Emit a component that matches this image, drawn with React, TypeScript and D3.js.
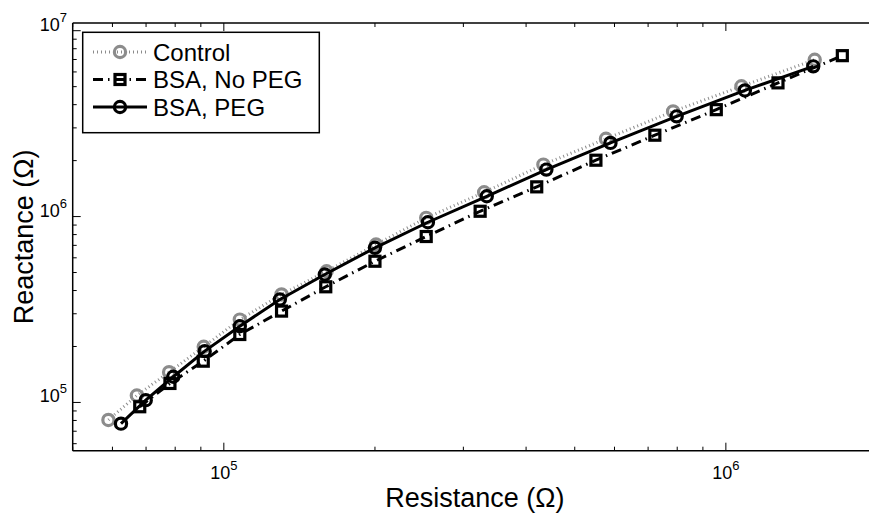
import React from "react";
import * as d3 from "d3";

// Resistance (Ohm) / Reactance (Ohm) values
const controlX = [5.89e4, 6.71e4, 7.78e4, 9.12e4, 1.076e5, 1.303e5, 1.602e5, 2.01e5, 2.53e5, 3.3e5, 4.33e5, 5.77e5, 7.85e5, 1.074e6, 1.503e6];
const controlY = [8.05e4, 1.09e5, 1.455e5, 1.993e5, 2.79e5, 3.81e5, 5.08e5, 7.07e5, 9.84e5, 1.351e6, 1.904e6, 2.62e6, 3.68e6, 5.02e6, 6.98e6];

const noPegX = [6.8e4, 7.81e4, 9.1e4, 1.076e5, 1.303e5, 1.596e5, 2.0e5, 2.53e5, 3.24e5, 4.2e5, 5.51e5, 7.22e5, 9.57e5, 1.27e6, 1.706e6];
const noPegY = [9.48e4, 1.265e5, 1.667e5, 2.32e5, 3.1e5, 4.19e5, 5.75e5, 7.81e5, 1.068e6, 1.445e6, 2.01e6, 2.74e6, 3.76e6, 5.24e6, 7.34e6];

const pegX = [6.24e4, 6.99e4, 7.93e4, 9.16e4, 1.076e5, 1.293e5, 1.589e5, 2.0e5, 2.55e5, 3.34e5, 4.39e5, 5.89e5, 7.98e5, 1.091e6, 1.493e6];
const pegY = [7.69e4, 1.029e5, 1.375e5, 1.888e5, 2.57e5, 3.58e5, 4.88e5, 6.79e5, 9.32e5, 1.286e6, 1.789e6, 2.49e6, 3.46e6, 4.77e6, 6.43e6];

const seriesNames = ["Control", "BSA, No PEG", "BSA, PEG"];
const xMajorTicks = [1e5, 1e6];
const yMajorTicks = [1e5, 1e6, 1e7];
const xLabel = "Resistance (Ω)";
const yLabel = "Reactance (Ω)";

const W = 869;
const H = 513;
const L = 72.7, R = 877, T = 23, B = 450.7;
const FONT = "'Liberation Sans', Arial, Helvetica, sans-serif";
const GRAY = "#8c8c8c";

const x = d3.scaleLog().domain([5e4, 2e6]).range([L, R]);
const y = d3.scaleLog().domain([5.5e4, 1.1e7]).range([B, T]);

function minorTicks(domain: number[]) {
  const out: { v: number; major: boolean }[] = [];
  const lo = Math.floor(Math.log10(domain[0]));
  const hi = Math.ceil(Math.log10(domain[1]));
  for (let e = lo; e <= hi; e++) {
    for (let m = 1; m <= 9; m++) {
      const v = m * Math.pow(10, e);
      if (v >= domain[0] && v <= domain[1]) out.push({ v, major: m === 1 });
    }
  }
  return out;
}

const zip = (xs: number[], ys: number[]) => xs.map((v, i) => [v, ys[i]] as [number, number]);

const line = d3
  .line<[number, number]>()
  .x((d) => x(d[0]))
  .y((d) => y(d[1]));

const series = [
  { name: seriesNames[0], data: zip(controlX, controlY), color: GRAY, dash: "1 3", width: 3, marker: "circle" },
  { name: seriesNames[1], data: zip(noPegX, noPegY), color: "#000", dash: "10 5 1.5 5", width: 3, marker: "square" },
  { name: seriesNames[2], data: zip(pegX, pegY), color: "#000", dash: "", width: 3, marker: "circle" },
];

function Marker({ kind, cx, cy, color }: { kind: string; cx: number; cy: number; color: string }) {
  if (kind === "square") {
    return <rect x={cx - 5} y={cy - 5} width={10} height={10} fill="none" stroke={color} strokeWidth={3.2} />;
  }
  return <circle cx={cx} cy={cy} r={5.6} fill="none" stroke={color} strokeWidth={3.2} />;
}

export default function App() {
  const xt = minorTicks(x.domain());
  const yt = minorTicks(y.domain());
  return (
    <svg width={W} height={H} style={{ position: "absolute", left: 0, top: 0, background: "#fff" }} fontFamily={FONT}>
      <rect x={0} y={0} width={W} height={H} fill="#fff" />
      <defs>
        <clipPath id="plot">
          <rect x={L} y={T} width={R - L} height={B - T} />
        </clipPath>
      </defs>
      <g clipPath="url(#plot)">
        {series.map((s) => (
          <g key={s.name}>
            <path d={line(s.data) || ""} fill="none" stroke={s.color} strokeWidth={s.width} strokeDasharray={s.dash || undefined} />
            {s.data.map((d, i) => (
              <Marker key={i} kind={s.marker} cx={x(d[0])} cy={y(d[1])} color={s.color} />
            ))}
          </g>
        ))}
      </g>
      {/* axes box */}
      <g stroke="#000" strokeWidth={1.5} fill="none">
        <line x1={L} y1={B} x2={R} y2={B} />
        <line x1={L} y1={T} x2={R} y2={T} />
        <line x1={L} y1={T} x2={L} y2={B} />
        <line x1={R} y1={T} x2={R} y2={B} />
      </g>
      {/* ticks */}
      <g stroke="#000" strokeWidth={1}>
        {xt.map((t, i) => {
          const px = x(t.v);
          const len = t.major ? 8 : 4;
          return (
            <g key={"x" + i}>
              <line x1={px} y1={B} x2={px} y2={B - len} />
              <line x1={px} y1={T} x2={px} y2={T + len} />
            </g>
          );
        })}
        {yt.map((t, i) => {
          const py = y(t.v);
          const len = t.major ? 8 : 4;
          return (
            <g key={"y" + i}>
              <line x1={L} y1={py} x2={L + len} y2={py} />
              <line x1={R} y1={py} x2={R - len} y2={py} />
            </g>
          );
        })}
      </g>
      {/* tick labels */}
      {xMajorTicks.map((v) => (
        <text key={"xl" + v} x={x(v)} y={B + 28} textAnchor="middle" fontSize={18} fill="#000">
          <tspan>10</tspan>
          <tspan fontSize={13} dy={-9}>{Math.round(Math.log10(v))}</tspan>
        </text>
      ))}
      {yMajorTicks.map((v) => (
        <text key={"yl" + v} x={67} y={y(v)} textAnchor="end" fontSize={18} fill="#000">
          <tspan>10</tspan>
          <tspan fontSize={13} dy={-9}>{Math.round(Math.log10(v))}</tspan>
        </text>
      ))}
      {/* axis labels */}
      <text x={(L + R) / 2} y={507} textAnchor="middle" fontSize={27} fill="#000">
        {xLabel}
      </text>
      <text transform={`translate(33, ${(T + B) / 2}) rotate(-90)`} textAnchor="middle" fontSize={27} fill="#000">
        {yLabel}
      </text>
      {/* legend */}
      <g>
        <rect x={82.7} y={32.3} width={236.6} height={100.4} fill="#fff" stroke="#000" strokeWidth={1.5} />
        {series.map((s, i) => {
          const cy = 52 + i * 27.5;
          return (
            <g key={"lg" + i}>
              <line x1={93} y1={cy} x2={147} y2={cy} stroke={s.color} strokeWidth={s.width} strokeDasharray={s.dash || undefined} />
              <Marker kind={s.marker} cx={120} cy={cy} color={s.color} />
              <text x={153} y={cy + 8.5} fontSize={24} fill="#000">
                {s.name}
              </text>
            </g>
          );
        })}
      </g>
    </svg>
  );
}
